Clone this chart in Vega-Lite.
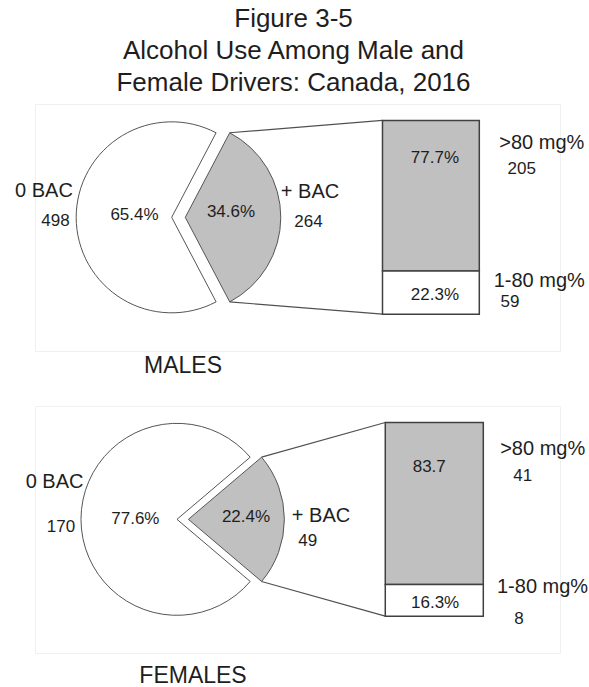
{
  "$schema": "https://vega.github.io/schema/vega-lite/v6.json",
  "background": "white",
  "padding": {"left": 14, "top": 5, "right": 0, "bottom": 0},
  "bounds": "flush",
  "spacing": 55,
  "data": {"values": [
    {"sex": "MALES", "chart": "pie", "group": "0 BAC", "n": 498, "pct": 65.4, "label": "65.4%"},
    {"sex": "MALES", "chart": "pie", "group": "+ BAC", "n": 264, "pct": 34.6, "label": "34.6%"},
    {"sex": "MALES", "chart": "bar", "group": ">80 mg%", "n": 205, "pct": 77.7, "label": "77.7%"},
    {"sex": "MALES", "chart": "bar", "group": "1-80 mg%", "n": 59, "pct": 22.3, "label": "22.3%"},
    {"sex": "FEMALES", "chart": "pie", "group": "0 BAC", "n": 170, "pct": 77.6, "label": "77.6%"},
    {"sex": "FEMALES", "chart": "pie", "group": "+ BAC", "n": 49, "pct": 22.4, "label": "22.4%"},
    {"sex": "FEMALES", "chart": "bar", "group": ">80 mg%", "n": 41, "pct": 83.7, "label": "83.7"},
    {"sex": "FEMALES", "chart": "bar", "group": "1-80 mg%", "n": 8, "pct": 16.3, "label": "16.3%"}
  ]},
  "config": {
    "view": {"stroke": "#f0f0f0", "strokeWidth": 1},
    "font": "Liberation Sans",
    "text": {"font": "Liberation Sans", "color": "#1e1e1e", "baseline": "middle", "fontSize": 17},
    "title": {"font": "Liberation Sans", "fontWeight": "normal", "color": "#1e1e1e"}
  },
  "vconcat": [
    {
      "width": 525,
      "height": 247,
      "title": {"text": ["Figure 3-5", "Alcohol Use Among Male and", "Female Drivers: Canada, 2016"], "anchor": "middle", "fontSize": 26, "lineHeight": 32, "offset": 8, "dx": -4},
      "transform": [
        {"filter": "datum.sex == 'MALES'"},
        {"stack": "pct", "groupby": ["chart"], "sort": [{"field": "group", "order": "ascending"}], "as": ["s0", "s1"]}
      ],
      "layer": [
        {
          "transform": [{"filter": "datum.group == '0 BAC'"}],
          "mark": {"type": "arc", "radius": 95.5, "xOffset": -6.8, "fill": "#ffffff", "stroke": "#555555", "strokeWidth": 1},
          "encoding": {
            "x": {"datum": 27.33, "type": "quantitative", "scale": {"domain": [0, 100], "nice": false, "zero": false}, "axis": null},
            "y": {"datum": 50, "type": "quantitative", "scale": {"domain": [-19, 108.5], "nice": false, "zero": false}, "axis": null},
            "theta": {"field": "s0", "type": "quantitative", "scale": {"domain": [0, 100], "range": [0.48381, 6.76699]}},
            "theta2": {"field": "s1"}
          }
        },
        {
          "transform": [{"filter": "datum.group == '+ BAC'"}],
          "mark": {"type": "arc", "radius": 95.5, "xOffset": 6.8, "fill": "#c0c0c0", "stroke": "#555555", "strokeWidth": 1},
          "encoding": {
            "x": {"datum": 27.33, "type": "quantitative", "axis": null},
            "y": {"datum": 50, "type": "quantitative", "axis": null},
            "theta": {"field": "s0", "type": "quantitative", "scale": {"domain": [0, 100], "range": [0.48381, 6.76699]}},
            "theta2": {"field": "s1"}
          }
        },
        {
          "transform": [{"filter": "datum.group == '+ BAC'"}],
          "mark": {"type": "rule", "stroke": "#505050", "strokeWidth": 1.2},
          "encoding": {
            "x": {"datum": 37.09, "type": "quantitative", "axis": null},
            "y": {"datum": 93.65, "type": "quantitative", "axis": null},
            "x2": {"datum": 66.19},
            "y2": {"datum": 100}
          }
        },
        {
          "transform": [{"filter": "datum.group == '+ BAC'"}],
          "mark": {"type": "rule", "stroke": "#505050", "strokeWidth": 1.2},
          "encoding": {
            "x": {"datum": 37.09, "type": "quantitative", "axis": null},
            "y": {"datum": 6.35, "type": "quantitative", "axis": null},
            "x2": {"datum": 66.19},
            "y2": {"datum": 0}
          }
        },
        {
          "transform": [{"filter": "datum.chart == 'bar'"}],
          "mark": {"type": "rect", "stroke": "#404040", "strokeWidth": 1.5},
          "encoding": {
            "x": {"datum": 66.19, "type": "quantitative", "axis": null},
            "x2": {"datum": 84.63},
            "y": {"field": "s0", "type": "quantitative", "axis": null},
            "y2": {"field": "s1"},
            "fill": {"field": "group", "type": "nominal", "scale": {"domain": ["1-80 mg%", ">80 mg%"], "range": ["#ffffff", "#c0c0c0"]}, "legend": null}
          }
        },
        {
          "transform": [{"filter": "datum.group == '0 BAC'"}],
          "layer": [
            {"mark": {"type": "text", "fontSize": 20}, "encoding": {"x": {"datum": 1.71, "type": "quantitative", "axis": null}, "y": {"datum": 63.66, "type": "quantitative", "axis": null}, "text": {"field": "group"}}},
            {"mark": {"type": "text"}, "encoding": {"x": {"datum": 3.9, "type": "quantitative", "axis": null}, "y": {"datum": 48.17, "type": "quantitative", "axis": null}, "text": {"field": "n"}}},
            {"mark": {"type": "text"}, "encoding": {"x": {"datum": 18.95, "type": "quantitative", "axis": null}, "y": {"datum": 51.1, "type": "quantitative", "axis": null}, "text": {"field": "label"}}}
          ]
        },
        {
          "transform": [{"filter": "datum.group == '+ BAC'"}],
          "layer": [
            {"mark": {"type": "text", "fontSize": 20}, "encoding": {"x": {"datum": 52.38, "type": "quantitative", "axis": null}, "y": {"datum": 62.99, "type": "quantitative", "axis": null}, "text": {"field": "group"}}},
            {"mark": {"type": "text"}, "encoding": {"x": {"datum": 52.1, "type": "quantitative", "axis": null}, "y": {"datum": 47.5, "type": "quantitative", "axis": null}, "text": {"field": "n"}}},
            {"mark": {"type": "text"}, "encoding": {"x": {"datum": 37.33, "type": "quantitative", "axis": null}, "y": {"datum": 52.66, "type": "quantitative", "axis": null}, "text": {"field": "label"}}},
            {"mark": {"type": "text", "fontSize": 23}, "encoding": {"x": {"datum": 28.19, "type": "quantitative", "axis": null}, "y": {"datum": -26.5, "type": "quantitative", "axis": null}, "text": {"field": "sex"}}}
          ]
        },
        {
          "transform": [{"filter": "datum.group == '>80 mg%'"}],
          "layer": [
            {"mark": {"type": "text", "fontSize": 20, "align": "left"}, "encoding": {"x": {"datum": 88.44, "type": "quantitative", "axis": null}, "y": {"datum": 88.28, "type": "quantitative", "axis": null}, "text": {"field": "group"}}},
            {"mark": {"type": "text"}, "encoding": {"x": {"datum": 92.7, "type": "quantitative", "axis": null}, "y": {"datum": 74.86, "type": "quantitative", "axis": null}, "text": {"field": "n"}}},
            {"mark": {"type": "text", "align": "left"}, "encoding": {"x": {"datum": 71.58, "type": "quantitative", "axis": null}, "y": {"datum": 80.38, "type": "quantitative", "axis": null}, "text": {"field": "label"}}}
          ]
        },
        {
          "transform": [{"filter": "datum.group == '1-80 mg%'"}],
          "layer": [
            {"mark": {"type": "text", "fontSize": 20, "align": "left"}, "encoding": {"x": {"datum": 87.37, "type": "quantitative", "axis": null}, "y": {"datum": 17.19, "type": "quantitative", "axis": null}, "text": {"field": "group"}}},
            {"mark": {"type": "text"}, "encoding": {"x": {"datum": 90.48, "type": "quantitative", "axis": null}, "y": {"datum": 6.35, "type": "quantitative", "axis": null}, "text": {"field": "n"}}},
            {"mark": {"type": "text", "align": "left"}, "encoding": {"x": {"datum": 71.58, "type": "quantitative", "axis": null}, "y": {"datum": 9.81, "type": "quantitative", "axis": null}, "text": {"field": "label"}}}
          ]
        }
      ]
    },
    {
      "width": 525,
      "height": 247,
      "transform": [
        {"filter": "datum.sex == 'FEMALES'"},
        {"stack": "pct", "groupby": ["chart"], "sort": [{"field": "group", "order": "ascending"}], "as": ["s0", "s1"]}
      ],
      "layer": [
        {
          "transform": [{"filter": "datum.group == '0 BAC'"}],
          "mark": {"type": "arc", "radius": 96, "xOffset": -5.7, "fill": "#ffffff", "stroke": "#555555", "strokeWidth": 1},
          "encoding": {
            "x": {"datum": 28.13, "type": "quantitative", "scale": {"domain": [0, 100], "nice": false, "zero": false}, "axis": null},
            "y": {"datum": 50, "type": "quantitative", "scale": {"domain": [-19, 108.5], "nice": false, "zero": false}, "axis": null},
            "theta": {"field": "s0", "type": "quantitative", "scale": {"domain": [0, 100], "range": [0.86708, 7.15027]}},
            "theta2": {"field": "s1"}
          }
        },
        {
          "transform": [{"filter": "datum.group == '+ BAC'"}],
          "mark": {"type": "arc", "radius": 96, "xOffset": 5.7, "fill": "#c0c0c0", "stroke": "#555555", "strokeWidth": 1},
          "encoding": {
            "x": {"datum": 28.13, "type": "quantitative", "axis": null},
            "y": {"datum": 50, "type": "quantitative", "axis": null},
            "theta": {"field": "s0", "type": "quantitative", "scale": {"domain": [0, 100], "range": [0.86708, 7.15027]}},
            "theta2": {"field": "s1"}
          }
        },
        {
          "transform": [{"filter": "datum.group == '+ BAC'"}],
          "mark": {"type": "rule", "stroke": "#505050", "strokeWidth": 1.2},
          "encoding": {
            "x": {"datum": 43.16, "type": "quantitative", "axis": null},
            "y": {"datum": 82.07, "type": "quantitative", "axis": null},
            "x2": {"datum": 66.72},
            "y2": {"datum": 100}
          }
        },
        {
          "transform": [{"filter": "datum.group == '+ BAC'"}],
          "mark": {"type": "rule", "stroke": "#505050", "strokeWidth": 1.2},
          "encoding": {
            "x": {"datum": 43.16, "type": "quantitative", "axis": null},
            "y": {"datum": 17.93, "type": "quantitative", "axis": null},
            "x2": {"datum": 66.72},
            "y2": {"datum": 0}
          }
        },
        {
          "transform": [{"filter": "datum.chart == 'bar'"}],
          "mark": {"type": "rect", "stroke": "#404040", "strokeWidth": 1.5},
          "encoding": {
            "x": {"datum": 66.72, "type": "quantitative", "axis": null},
            "x2": {"datum": 85.39},
            "y": {"field": "s0", "type": "quantitative", "axis": null},
            "y2": {"field": "s1"},
            "fill": {"field": "group", "type": "nominal", "scale": {"domain": ["1-80 mg%", ">80 mg%"], "range": ["#ffffff", "#c0c0c0"]}, "legend": null}
          }
        },
        {
          "transform": [{"filter": "datum.group == '0 BAC'"}],
          "layer": [
            {"mark": {"type": "text", "fontSize": 20}, "encoding": {"x": {"datum": 3.73, "type": "quantitative", "axis": null}, "y": {"datum": 69.02, "type": "quantitative", "axis": null}, "text": {"field": "group"}}},
            {"mark": {"type": "text"}, "encoding": {"x": {"datum": 4.95, "type": "quantitative", "axis": null}, "y": {"datum": 45.79, "type": "quantitative", "axis": null}, "text": {"field": "n"}}},
            {"mark": {"type": "text"}, "encoding": {"x": {"datum": 19.12, "type": "quantitative", "axis": null}, "y": {"datum": 50.08, "type": "quantitative", "axis": null}, "text": {"field": "label"}}}
          ]
        },
        {
          "transform": [{"filter": "datum.group == '+ BAC'"}],
          "layer": [
            {"mark": {"type": "text", "fontSize": 20}, "encoding": {"x": {"datum": 54.48, "type": "quantitative", "axis": null}, "y": {"datum": 51.78, "type": "quantitative", "axis": null}, "text": {"field": "group"}}},
            {"mark": {"type": "text"}, "encoding": {"x": {"datum": 51.94, "type": "quantitative", "axis": null}, "y": {"datum": 38.87, "type": "quantitative", "axis": null}, "text": {"field": "n"}}},
            {"mark": {"type": "text"}, "encoding": {"x": {"datum": 40.19, "type": "quantitative", "axis": null}, "y": {"datum": 50.95, "type": "quantitative", "axis": null}, "text": {"field": "label"}}},
            {"mark": {"type": "text", "fontSize": 23}, "encoding": {"x": {"datum": 30.1, "type": "quantitative", "axis": null}, "y": {"datum": -30.98, "type": "quantitative", "axis": null}, "text": {"field": "sex"}}}
          ]
        },
        {
          "transform": [{"filter": "datum.group == '>80 mg%'"}],
          "layer": [
            {"mark": {"type": "text", "fontSize": 20, "align": "left"}, "encoding": {"x": {"datum": 88.6, "type": "quantitative", "axis": null}, "y": {"datum": 86.22, "type": "quantitative", "axis": null}, "text": {"field": "group"}}},
            {"mark": {"type": "text"}, "encoding": {"x": {"datum": 92.9, "type": "quantitative", "axis": null}, "y": {"datum": 72.28, "type": "quantitative", "axis": null}, "text": {"field": "n"}}},
            {"mark": {"type": "text", "align": "left"}, "encoding": {"x": {"datum": 71.94, "type": "quantitative", "axis": null}, "y": {"datum": 76.92, "type": "quantitative", "axis": null}, "text": {"field": "label"}}}
          ]
        },
        {
          "transform": [{"filter": "datum.group == '1-80 mg%'"}],
          "layer": [
            {"mark": {"type": "text", "fontSize": 20, "align": "left"}, "encoding": {"x": {"datum": 88.0, "type": "quantitative", "axis": null}, "y": {"datum": 14.97, "type": "quantitative", "axis": null}, "text": {"field": "group"}}},
            {"mark": {"type": "text"}, "encoding": {"x": {"datum": 92.19, "type": "quantitative", "axis": null}, "y": {"datum": -1.55, "type": "quantitative", "axis": null}, "text": {"field": "n"}}},
            {"mark": {"type": "text", "align": "left"}, "encoding": {"x": {"datum": 71.62, "type": "quantitative", "axis": null}, "y": {"datum": 6.71, "type": "quantitative", "axis": null}, "text": {"field": "label"}}}
          ]
        }
      ]
    }
  ]
}
